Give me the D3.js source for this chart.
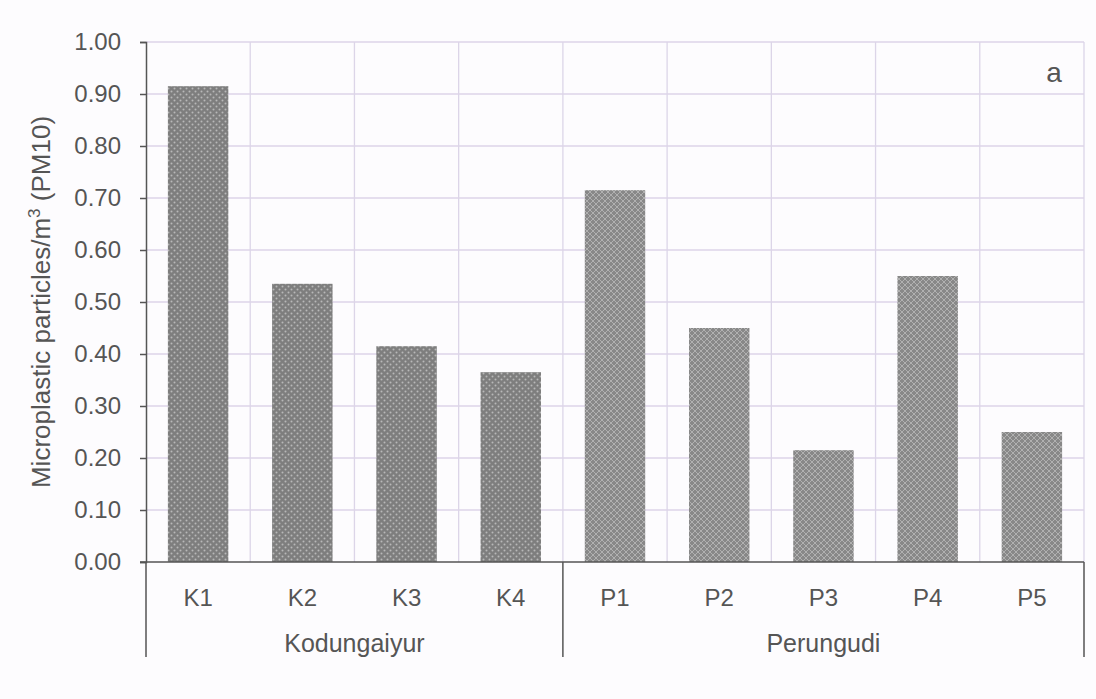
<!DOCTYPE html>
<html>
<head>
<meta charset="utf-8">
<script src="https://cdn.jsdelivr.net/npm/d3@7/dist/d3.min.js"></script>
<style>
  html, body { margin: 0; padding: 0; background: #fdfcfe; }
  svg { display: block; font-family: "Liberation Sans", Arial, sans-serif; }
</style>
</head>
<body>
<svg id="chart" width="1096" height="699"></svg>
<script>
// Sampling sites and their groups
const sites = ["K1", "K2", "K3", "K4", "P1", "P2", "P3", "P4", "P5"];
const siteGroups = ["Kodungaiyur", "Kodungaiyur", "Kodungaiyur", "Kodungaiyur",
                    "Perungudi", "Perungudi", "Perungudi", "Perungudi", "Perungudi"];
const groups = ["Kodungaiyur", "Perungudi"];
// Microplastic particles per m³ (PM10)
const values = [0.915, 0.535, 0.415, 0.365, 0.715, 0.45, 0.215, 0.55, 0.25];
const yTicks = [0, 0.1, 0.2, 0.3, 0.4, 0.5, 0.6, 0.7, 0.8, 0.9, 1.0];

const svg = d3.select("#chart");
const margin = { left: 146, right: 12, top: 42, bottom: 137 };
const W = 1096, H = 699;
const plotW = W - margin.left - margin.right;
const plotH = H - margin.top - margin.bottom;

const textColor = "#555";
const gridColor = "#dcd5e8";
const fontSize = 24;

// Hatch fills: dotted for the first site group, crosshatch for the second
const defs = svg.append("defs");
const dots = defs.append("pattern").attr("id", "dots")
  .attr("patternUnits", "userSpaceOnUse").attr("width", 6).attr("height", 6);
dots.append("rect").attr("width", 6).attr("height", 6).attr("fill", "#7e7e7e");
dots.append("circle").attr("cx", 1.5).attr("cy", 1.5).attr("r", 1).attr("fill", "#b8b8b8");
dots.append("circle").attr("cx", 4.5).attr("cy", 4.5).attr("r", 1).attr("fill", "#b8b8b8");

const cross = defs.append("pattern").attr("id", "cross")
  .attr("patternUnits", "userSpaceOnUse").attr("width", 6).attr("height", 6);
cross.append("rect").attr("width", 6).attr("height", 6).attr("fill", "#888");
cross.append("path").attr("d", "M0,0L6,6M6,0L0,6")
  .attr("stroke", "#b4b4b4").attr("stroke-width", 0.9);

const g = svg.append("g").attr("transform", `translate(${margin.left},${margin.top})`);

const x = d3.scaleBand().domain(sites).range([0, plotW]).paddingInner(0.42).paddingOuter(0.21);
const y = d3.scaleLinear().domain([0, 1]).range([plotH, 0]);
const step = x.step();

// Horizontal grid
g.append("g").selectAll("line").data(yTicks.slice(1)).join("line")
  .attr("x1", 0).attr("x2", plotW)
  .attr("y1", d => y(d)).attr("y2", d => y(d))
  .attr("stroke", gridColor).attr("stroke-width", 1.3);

// Vertical grid at category boundaries
g.append("g").selectAll("line").data(d3.range(1, sites.length + 1)).join("line")
  .attr("x1", i => i * step).attr("x2", i => i * step)
  .attr("y1", 0).attr("y2", plotH)
  .attr("stroke", gridColor).attr("stroke-width", 1.3);

// Bars
g.append("g").selectAll("rect").data(sites).join("rect")
  .attr("x", d => x(d))
  .attr("width", x.bandwidth())
  .attr("y", (d, i) => y(values[i]))
  .attr("height", (d, i) => plotH - y(values[i]))
  .attr("fill", (d, i) => siteGroups[i] === groups[0] ? "url(#dots)" : "url(#cross)");

// Y axis
const yAxis = g.append("g")
  .call(d3.axisLeft(y).tickValues(yTicks).tickFormat(d3.format(".2f")).tickSize(6).tickPadding(19));
yAxis.select(".domain").attr("stroke", textColor).attr("stroke-width", 1.5);
yAxis.selectAll(".tick line").attr("stroke", textColor).attr("stroke-width", 1.5);
yAxis.selectAll(".tick text").attr("fill", textColor).attr("font-size", fontSize)
  .attr("font-family", "Liberation Sans, Arial, sans-serif");

// X axis baseline
g.append("line").attr("x1", -6).attr("x2", plotW)
  .attr("y1", plotH).attr("y2", plotH)
  .attr("stroke", textColor).attr("stroke-width", 1.5);

// Site labels
g.append("g").selectAll("text").data(sites).join("text")
  .attr("x", d => x(d) + x.bandwidth() / 2)
  .attr("y", plotH + 44)
  .attr("text-anchor", "middle")
  .attr("fill", textColor).attr("font-size", fontSize)
  .text(d => d);

// Group separators and labels
const groupSpans = groups.map(name => {
  const idx = siteGroups.map((s, i) => s === name ? i : -1).filter(i => i >= 0);
  return { name, start: d3.min(idx) * step, end: (d3.max(idx) + 1) * step };
});
const bounds = [0, ...groupSpans.map(s => s.end)];
g.append("g").selectAll("line").data(bounds).join("line")
  .attr("x1", d => d).attr("x2", d => d)
  .attr("y1", plotH).attr("y2", plotH + 95)
  .attr("stroke", textColor).attr("stroke-width", 1.5);
g.append("g").selectAll("text").data(groupSpans).join("text")
  .attr("x", d => (d.start + d.end) / 2)
  .attr("y", plotH + 90)
  .attr("text-anchor", "middle")
  .attr("fill", textColor).attr("font-size", 25)
  .text(d => d.name);

// Panel letter
g.append("text").attr("x", plotW - 30).attr("y", 40)
  .attr("text-anchor", "middle").attr("fill", textColor).attr("font-size", 28)
  .text("a");

// Y axis title
const yt = svg.append("text")
  .attr("transform", `translate(50,${margin.top + plotH / 2}) rotate(-90)`)
  .attr("text-anchor", "middle").attr("fill", textColor).attr("font-size", 26);
yt.append("tspan").text("Microplastic particles/m");
yt.append("tspan").attr("dy", -10).attr("font-size", 17).text("3");
yt.append("tspan").attr("dy", 10).text(" (PM10)");
</script>
</body>
</html>
